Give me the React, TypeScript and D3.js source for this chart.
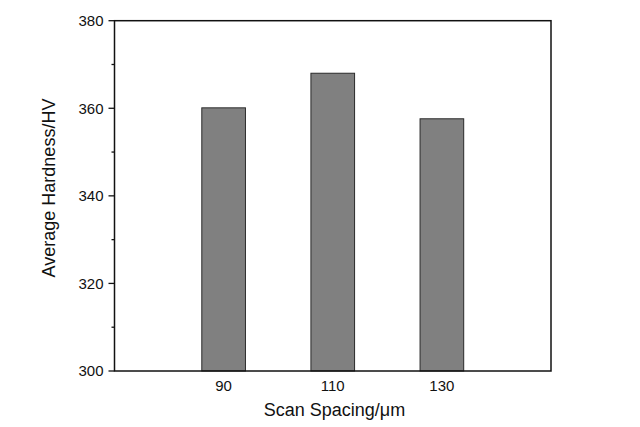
import { useEffect, useRef } from "react"
import * as d3 from "d3"

const spacings = [90, 110, 130]
const hardness = [360.1, 368.0, 357.6]
const yTicks = [300, 320, 340, 360, 380]
const yMinorTicks = [310, 330, 350, 370]

export default function App() {
  const svgRef = useRef<SVGSVGElement>(null)

  useEffect(() => {
    if (!svgRef.current) return
    const root = d3.select(svgRef.current)
    root.selectAll("*").remove()

    const left = 114.5
    const right = 551
    const top = 20.7
    const bottom = 371
    const font = "Arial, 'Liberation Sans', sans-serif"

    const x = d3.scaleLinear().domain([70, 150]).range([left, right])
    const y = d3.scaleLinear().domain([300, 380]).range([bottom, top])
    const barW = x(78) - x(70)

    // bars
    root
      .selectAll(".bar")
      .data(spacings)
      .join("rect")
      .attr("class", "bar")
      .attr("x", (d) => x(d) - barW / 2)
      .attr("y", (_, i) => y(hardness[i]))
      .attr("width", barW)
      .attr("height", (_, i) => bottom - y(hardness[i]))
      .attr("fill", "#808080")
      .attr("stroke", "#2a2a2a")
      .attr("stroke-width", 1)

    // frame
    root
      .append("rect")
      .attr("x", left)
      .attr("y", top)
      .attr("width", right - left)
      .attr("height", bottom - top)
      .attr("fill", "none")
      .attr("stroke", "#111")
      .attr("stroke-width", 1.5)

    // y axis ticks
    const yAxis = root.append("g").attr("font-family", font)
    yAxis
      .selectAll(".major")
      .data(yTicks)
      .join("line")
      .attr("x1", left - 6)
      .attr("x2", left)
      .attr("y1", (d) => y(d))
      .attr("y2", (d) => y(d))
      .attr("stroke", "#111")
      .attr("stroke-width", 1.3)
    yAxis
      .selectAll(".minor")
      .data(yMinorTicks)
      .join("line")
      .attr("x1", left - 3)
      .attr("x2", left)
      .attr("y1", (d) => y(d))
      .attr("y2", (d) => y(d))
      .attr("stroke", "#111")
      .attr("stroke-width", 1.3)
    yAxis
      .selectAll("text")
      .data(yTicks)
      .join("text")
      .attr("x", left - 11)
      .attr("y", (d) => y(d))
      .attr("dy", "0.35em")
      .attr("text-anchor", "end")
      .attr("font-size", 15)
      .attr("fill", "#111")
      .text((d) => d)

    // x labels
    root
      .append("g")
      .attr("font-family", font)
      .selectAll("text")
      .data(spacings)
      .join("text")
      .attr("x", (d) => x(d))
      .attr("y", bottom + 15)
      .attr("dy", "0.35em")
      .attr("text-anchor", "middle")
      .attr("font-size", 15)
      .attr("fill", "#111")
      .text((d) => d)

    // axis titles
    root
      .append("text")
      .attr("x", 334.5)
      .attr("y", 416)
      .attr("text-anchor", "middle")
      .attr("font-family", font)
      .attr("font-size", 18)
      .attr("fill", "#111")
      .text("Scan Spacing/μm")

    root
      .append("text")
      .attr("transform", "translate(54.5, 188) rotate(-90)")
      .attr("text-anchor", "middle")
      .attr("font-family", font)
      .attr("font-size", 18)
      .attr("fill", "#111")
      .text("Average Hardness/HV")
  }, [])

  return (
    <div style={{ position: "fixed", left: 0, top: 0 }}>
      <svg ref={svgRef} width={640} height={427} style={{ display: "block", background: "#fff" }}></svg>
    </div>
  )
}
